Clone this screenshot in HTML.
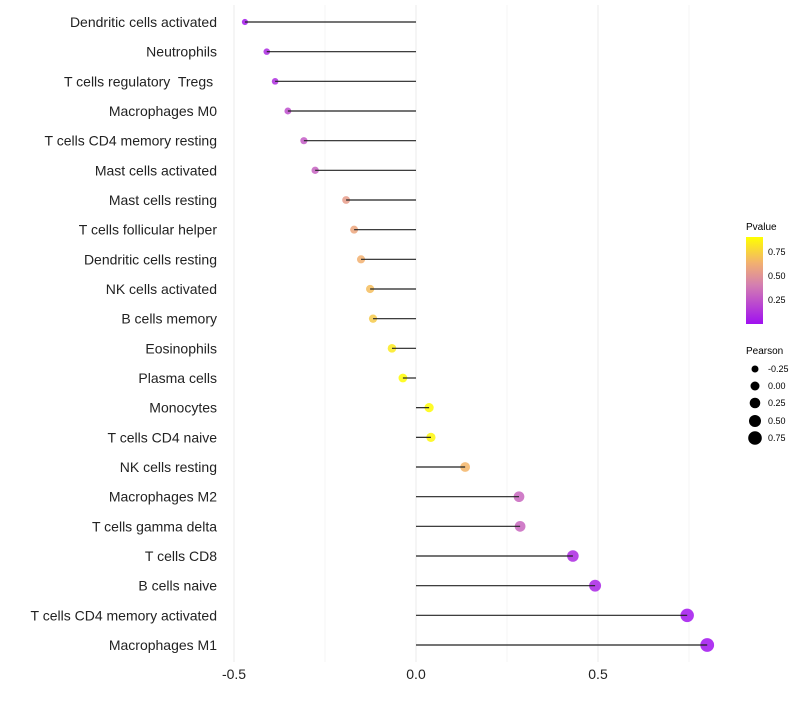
<!DOCTYPE html>
<html><head><meta charset="utf-8"><style>
body{margin:0;background:#fff;font-family:"Liberation Sans",sans-serif}
</style></head><body>
<svg id="chart" width="800" height="700" xmlns="http://www.w3.org/2000/svg">
<defs><linearGradient id="pg" x1="0" y1="1" x2="0" y2="0">
<stop offset="0" stop-color="#a010f0"/><stop offset="0.45" stop-color="#d47fb0"/><stop offset="0.7" stop-color="#f2b070"/><stop offset="1" stop-color="#ffff00"/></linearGradient></defs>
<g id="grid"></g><g id="dots"></g><g id="marks"></g><g id="labels"></g>
<g font-size="9" fill="#000">
<text x="746" y="230" font-size="10">Pvalue</text>
<rect x="746" y="237" width="17" height="87" fill="url(#pg)"/>
<text x="768" y="255">0.75</text><text x="768" y="279">0.50</text><text x="768" y="303">0.25</text>
</g>
<g font-size="9">
<text x="746" y="354" font-size="10">Pearson</text>
<circle cx="755" cy="369" r="3.5"/><text x="768" y="372">-0.25</text>
<circle cx="755" cy="386" r="4.5"/><text x="768" y="389">0.00</text>
<circle cx="755" cy="403" r="5.3"/><text x="768" y="406">0.25</text>
<circle cx="755" cy="421" r="6"/><text x="768" y="424">0.50</text>
<circle cx="755" cy="438" r="6.8"/><text x="768" y="441">0.75</text>
</g>
</svg>
<script>
const categories=["Dendritic cells activated","Neutrophils","T cells regulatory  Tregs ","Macrophages M0","T cells CD4 memory resting","Mast cells activated","Mast cells resting","T cells follicular helper","Dendritic cells resting","NK cells activated","B cells memory","Eosinophils","Plasma cells","Monocytes","T cells CD4 naive","NK cells resting","Macrophages M2","T cells gamma delta","T cells CD8","B cells naive","T cells CD4 memory activated","Macrophages M1"];
const pearson=[-0.47,-0.41,-0.387,-0.352,-0.308,-0.277,-0.192,-0.170,-0.151,-0.126,-0.118,-0.066,-0.036,0.036,0.041,0.135,0.283,0.286,0.431,0.492,0.745,0.800];
const pvalue=[0.03,0.1,0.12,0.25,0.3,0.33,0.6,0.65,0.7,0.75,0.8,0.92,0.99,0.99,0.97,0.72,0.35,0.35,0.1,0.08,0.02,0.01];
const xTicks=[-0.5,0,0.5];
const xTickLabels=["-0.5","0.0","0.5"];
const NS="http://www.w3.org/2000/svg";
const x=v=>416+v*364;
const y=i=>22+i*(623/21);
const rScale=v=>Math.max(1.3,4.5+v*3.0);
const stops=[[0,[160,16,240]],[0.45,[212,127,176]],[0.7,[242,176,112]],[1,[255,255,0]]];
function col(p){for(let k=1;k<stops.length;k++){if(p<=stops[k][0]){const a=stops[k-1],b=stops[k],t=(p-a[0])/(b[0]-a[0]);return "rgb("+a[1].map((c,j)=>Math.round(c+(b[1][j]-c)*t)).join(",")+")";}}return "rgb(255,255,0)";}
function mk(t,a,p){const e=document.createElementNS(NS,t);for(const k in a)e.setAttribute(k,a[k]);p.appendChild(e);return e;}
const grid=document.getElementById('grid'),marks=document.getElementById('marks'),dots=document.getElementById('dots'),labels=document.getElementById('labels');
[-0.25,0.25,0.75].forEach(v=>{const l=mk('line',{x1:x(v),x2:x(v),y1:5,y2:662,stroke:'#f4f4f4','stroke-width':1},grid);

});
xTicks.forEach((v,i)=>{const l=mk('line',{x1:x(v),x2:x(v),y1:5,y2:662,stroke:'#ebebeb','stroke-width':1},grid);


const t=mk('text',{x:x(v),y:679,'text-anchor':'middle','font-size':14,fill:'#222'},labels);t.textContent=xTickLabels[i];

});
categories.forEach((c,i)=>{
const d=mk('circle',{cx:x(pearson[i]),cy:y(i),r:rScale(pearson[i]),fill:col(pvalue[i]),'fill-opacity':0.85},dots);


const l=mk('line',{x1:x(0),x2:x(pearson[i]),y1:y(i),y2:y(i),stroke:'#222','stroke-width':1.2},marks);


const t=mk('text',{x:217,y:y(i)+5,'text-anchor':'end','font-size':14,fill:'#222'},labels);t.textContent=c;


t.setAttribute('xml:space','preserve');t.style.whiteSpace='pre';});
</script>
</body></html>
